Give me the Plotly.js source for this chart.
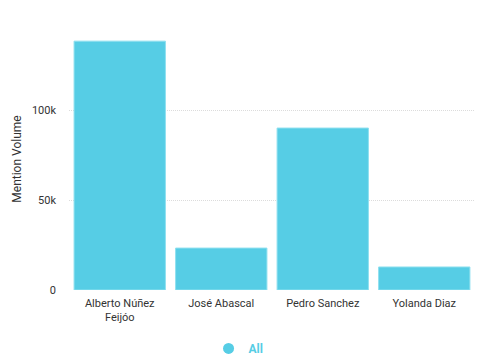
<!DOCTYPE html>
<html><head><meta charset="utf-8">
<script src="https://cdn.plot.ly/plotly-3.0.1.min.js"></script>
<style>html,body{margin:0;padding:0;background:#fff}#c{width:497px;height:363px}</style>
</head><body><div id="c"></div>
<script>
const categories = ["Alberto Núñez<br>Feijóo", "José Abascal", "Pedro Sanchez", "Yolanda Diaz"];
const seriesName = "All";
const mentionVolume = [138300, 23300, 90000, 12800];
const yTickVals = [0, 50000, 100000];
const yTickText = ["0", "50k", "100k"];

const color = "#56CDE5";
Plotly.newPlot("c", [{
  type: "bar", x: categories, y: mentionVolume, name: seriesName,
  marker: {color: color, line: {color: "#8fe0ef", width: 1}},
  showlegend: false, legendgroup: "all"
}, {
  type: "scatter", mode: "markers", x: [categories[0]], y: [null], name: seriesName,
  marker: {color: color, size: 11, symbol: "circle"}, legendgroup: "all", showlegend: true
}], {
  width: 497, height: 363,
  margin: {l: 69, r: 22, t: 28, b: 73},
  paper_bgcolor: "#fff", plot_bgcolor: "#fff",
  font: {family: "Roboto, sans-serif", size: 11, color: "#333"},
  bargap: 0.1,
  xaxis: {showgrid: false, showline: false, zeroline: false, ticks: "", ticklabelstandoff: 5, tickfont: {size: 11, color: "#333"}, automargin: false},
  yaxis: {range: [0, 145600], tickvals: yTickVals, ticktext: yTickText, showgrid: true, gridcolor: "#dcdcdc", griddash: "1px,1px", gridwidth: 1, zeroline: false, showline: false, ticks: "", ticklabelstandoff: 12, tickfont: {size: 11, color: "#333"},
    title: {text: "Mention Volume", font: {size: 12, color: "#333"}, standoff: 7}, automargin: false},
  legend: {orientation: "h", x: 0.48, xanchor: "center", xref: "container", yref: "container", y: 0.04, yanchor: "middle", font: {size: 12, color: color, weight: "bold"}},
  showlegend: true
}, {displayModeBar: false, staticPlot: true});
</script></body></html>
